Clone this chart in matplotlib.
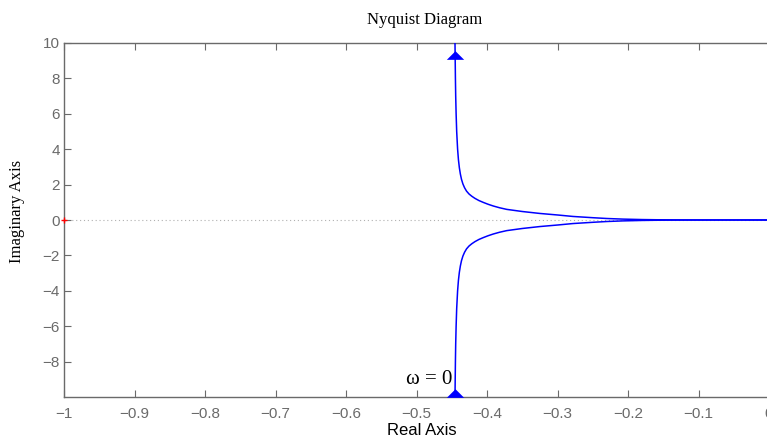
import matplotlib
matplotlib.use("Agg")
import matplotlib.pyplot as plt
import numpy as np

# Upper branch of the Nyquist curve; lower branch is its mirror
re_upper = [-0.4454, -0.4451, -0.4448, -0.4444, -0.4438, -0.4430, -0.4417, -0.4405,
            -0.4392, -0.4378, -0.4362, -0.4342, -0.4318, -0.4290, -0.4255, -0.4215,
            -0.4170, -0.4115, -0.4050, -0.3985, -0.3910, -0.3820, -0.3720, -0.3500,
            -0.3250, -0.2990, -0.2780, -0.2500, -0.2300, -0.2070, -0.1800, -0.1600,
            -0.1300, -0.1000, -0.0700, -0.0400, 0.0]
im_upper = [10.0, 9.0, 8.0, 7.0, 6.0, 5.0, 4.0, 3.4,
            2.95, 2.6, 2.3, 2.04, 1.82, 1.63, 1.47, 1.34,
            1.22, 1.10, 0.99, 0.89, 0.79, 0.69, 0.60, 0.48,
            0.37, 0.28, 0.20, 0.13, 0.085, 0.05, 0.025, 0.014,
            0.006, 0.002, 0.0006, 0.0001, 0.0]

# Direction arrows
arrow_re = [-0.4454, -0.4454]
arrow_im = [9.32, -9.77]

# Critical point
crit_re = [-1.0]
crit_im = [0.0]

xticks = [-1, -0.9, -0.8, -0.7, -0.6, -0.5, -0.4, -0.3, -0.2, -0.1, 0]
xticklabels = ["\u22121", "\u22120.9", "\u22120.8", "\u22120.7", "\u22120.6", "\u22120.5",
               "\u22120.4", "\u22120.3", "\u22120.2", "\u22120.1", "0"]
yticks = [-8, -6, -4, -2, 0, 2, 4, 6, 8, 10]
yticklabels = ["\u22128", "\u22126", "\u22124", "\u22122", "0", "2", "4", "6", "8", "10"]

W, H = 767, 441
fig = plt.figure(figsize=(W / 100, H / 100), dpi=100)
left, right, top, bottom = 64, 769, 43, 397
ax = fig.add_axes([left / W, 1 - bottom / H, (right - left) / W, (bottom - top) / H])

gray = "#6a6a6a"
blue = "#0000ff"

ax.plot([-1, 0], [0, 0], ls=(0, (1, 2.5)), color="#b0b0b0", lw=0.8, zorder=1)
ax.plot(re_upper, im_upper, color=blue, lw=1.1, zorder=3)
ax.plot(re_upper, [-v for v in im_upper], color=blue, lw=1.1, zorder=3)

tri = [(0, 0.5), (-1, -0.5), (1, -0.5), (0, 0.5)]
ax.plot(arrow_re, arrow_im, ls="none", marker=tri, markersize=12.5,
        color=blue, markeredgewidth=0, zorder=4, clip_on=False)
ax.plot(crit_re, crit_im, ls="none", marker="+", markersize=5, color="red",
        markeredgewidth=1.0, zorder=5, clip_on=False)

ax.text(-0.4496, -9.26, "\u03c9 = 0", ha="right", va="baseline",
        fontsize=15, family="Liberation Serif", color="black")

ax.set_xlim(-1, 0)
ax.set_ylim(-10, 10)
ax.set_xticks(xticks)
ax.set_xticklabels(xticklabels)
ax.set_yticks(yticks)
ax.set_yticklabels(yticklabels)

for s in ["left", "bottom", "top"]:
    ax.spines[s].set_color(gray)
    ax.spines[s].set_linewidth(1.0)
ax.spines["right"].set_visible(False)

ax.tick_params(axis="both", direction="in", length=5, width=0.8, color=gray,
               labelcolor=gray, labelsize=11, top=True, right=False)
for lab in ax.get_xticklabels() + ax.get_yticklabels():
    lab.set_family("Liberation Sans")
ax.tick_params(axis="x", pad=7)
ax.tick_params(axis="y", pad=3)

ax.set_xlabel("Real Axis", fontsize=12, family="Liberation Sans", color="black")
ax.xaxis.set_label_coords(0.508, -0.096)
ax.xaxis.label.set_va("center")
ax.set_ylabel("Imaginary Axis", fontsize=12, family="Liberation Serif", color="black")
ax.yaxis.set_label_coords(-0.0667, 0.525)
ax.yaxis.label.set_va("center")

ax.text(0.511, 1.065, "Nyquist Diagram", transform=ax.transAxes, ha="center",
        va="center", fontsize=12, family="Liberation Serif", color="black")

fig.savefig("out.png", dpi=100)
